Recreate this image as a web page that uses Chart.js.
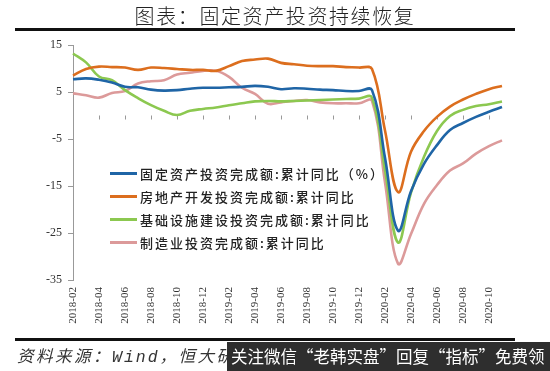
<!DOCTYPE html>
<html>
<head>
<meta charset="utf-8">
<script src="https://cdn.jsdelivr.net/npm/chart.js@4"></script>
<style>
  body { margin: 0; background: #fff; }
  #page { position: relative; width: 550px; height: 371px; overflow: hidden; background: #fff; }
  #title {
    position: absolute; left: 0; top: 1px; width: 550px; text-align: center;
    font-family: "Noto Sans CJK SC"; font-weight: 300; font-size: 20px; letter-spacing: 1.6px; color: #222;
  }
  .rule { position: absolute; left: 15px; width: 500px; height: 3px; background: #111; }
  #chartBox { position: absolute; left: 0; top: 0; width: 550px; height: 371px; }
  #legend {
    position: absolute; left: 110px; top: 162px;
    font-family: "Noto Sans CJK SC"; font-weight: 500; font-size: 13px; letter-spacing: 2px; color: #222; line-height: 23px;
  }
  #legend .row { display: flex; align-items: center; white-space: nowrap; }
  #legend .swatch { display: inline-block; width: 27px; height: 2.5px; margin-right: 3px; }
  #source {
    position: absolute; left: 17px; top: 343px;
    font-family: "Noto Sans CJK SC"; font-style: italic; font-size: 16.5px; letter-spacing: 2.5px; color: #333; white-space: nowrap;
  }
  #source .latin { font-family: "Liberation Mono"; letter-spacing: 2px; }
  #banner {
    position: absolute; left: 227px; top: 342px; width: 323px; height: 29px; background: #2e2e2e;
    color: #fff; font-family: "Noto Sans CJK SC"; font-size: 16.5px; line-height: 29px; padding-left: 4px; white-space: nowrap;
  }
</style>
</head>
<body>
<div id="page">
  <div id="chartBox"><canvas id="chart" width="550" height="371"></canvas></div>
  <div id="title">图表：固定资产投资持续恢复</div>
  <div class="rule" style="top:28px"></div>
  <div id="legend"></div>
  <div class="rule" style="top:338px"></div>
  <div id="source">资料来源：<span class="latin">Wind</span>，恒大研究院</div>
  <div id="banner">关注微信“老韩实盘”回复“指标”免费领</div>
</div>
<script>
const labels = [
  "2018-02", "2018-03", "2018-04", "2018-05", "2018-06", "2018-07", "2018-08", "2018-09",
  "2018-10", "2018-11", "2018-12", "2019-01", "2019-02", "2019-03", "2019-04", "2019-05",
  "2019-06", "2019-07", "2019-08", "2019-09", "2019-10", "2019-11", "2019-12", "2020-01",
  "2020-02", "2020-03", "2020-04", "2020-05", "2020-06", "2020-07", "2020-08", "2020-09",
  "2020-10", "2020-11"
];

const seriesNames = [
  "固定资产投资完成额:累计同比（%）",
  "房地产开发投资完成额:累计同比",
  "基础设施建设投资完成额:累计同比",
  "制造业投资完成额:累计同比"
];

const colors = ["#1f65a6", "#dc6e1e", "#8cc850", "#dc9a9a"];

const fixedAsset = [7.7, 7.9, 7.6, 7.0, 6.1, 6.0, 5.5, 5.3, 5.4, 5.7, 5.9, 5.9, 6.0, 6.1, 6.3, 6.1, 5.6,
  5.8, 5.7, 5.5, 5.4, 5.2, 5.2, 5.4, -9.0, -24.5, -16.1, -10.3, -6.3, -3.1, -1.6, -0.3, 0.8, 1.8];
const realEstate = [8.5, 9.9, 10.4, 10.3, 10.2, 9.7, 10.2, 10.1, 9.9, 9.7, 9.7, 9.5, 10.5, 11.6, 11.9, 12.1, 11.2,
  10.9, 10.6, 10.5, 10.5, 10.3, 10.2, 9.9, -3.2, -16.3, -7.7, -3.3, -0.3, 1.9, 3.4, 4.6, 5.6, 6.3];
const infrastructure = [13.2, 11.3, 8.3, 7.5, 5.4, 3.7, 2.2, 1.0, 0.1, 1.0, 1.4, 1.7, 2.2, 2.6, 3.0, 3.1, 3.0,
  3.1, 3.2, 3.3, 3.4, 3.5, 3.6, 3.8, -11.6, -27.0, -16.4, -8.8, -3.3, -0.1, 1.2, 2.0, 2.4, 3.0];
const manufacturing = [4.7, 4.3, 3.8, 4.8, 5.2, 6.8, 7.3, 7.5, 8.7, 9.1, 9.5, 9.5, 8.2, 5.9, 4.6, 2.5, 2.8,
  3.1, 3.3, 2.8, 2.6, 2.6, 2.6, 3.1, -14.2, -31.5, -25.2, -18.8, -14.8, -11.7, -10.2, -8.1, -6.5, -5.3];

const seriesData = [fixedAsset, realEstate, infrastructure, manufacturing];

// legend drawn as html inside the plot area
document.getElementById("legend").innerHTML = seriesNames
  .map((name, i) => `<div class="row"><span class="swatch" style="background:${colors[i]}"></span>${name}</div>`)
  .join("");

// small tick marks hanging under the zero line, every 2 months
const zeroTicks = {
  id: "zeroTicks",
  beforeDatasetsDraw(chart) {
    const { ctx, scales } = chart;
    const y0 = scales.y.getPixelForValue(0);
    ctx.save();
    ctx.strokeStyle = "#999";
    ctx.lineWidth = 1;
    ctx.beginPath();
    labels.forEach((l, i) => {
      if (i % 2 !== 0) return;
      const x = Math.round(scales.x.getPixelForValue(i)) + 0.5;
      ctx.moveTo(x, y0);
      ctx.lineTo(x, y0 + 4);
    });
    ctx.stroke();
    ctx.restore();
  }
};

new Chart(document.getElementById("chart"), {
  type: "line",
  data: {
    labels: labels,
    datasets: seriesData.map((d, i) => ({
      label: seriesNames[i],
      data: d,
      borderColor: colors[i],
      borderWidth: 2.6,
      pointRadius: 0,
      tension: 0.4,
      fill: false
    }))
  },
  options: {
    responsive: false,
    animation: false,
    layout: { padding: { left: 0, right: 48, top: 45, bottom: 0 } },
    plugins: {
      legend: { display: false },
      tooltip: { enabled: false }
    },
    scales: {
      x: {
        offset: false,
        grid: { display: false, drawTicks: false },
        border: { display: false },
        ticks: {
          autoSkip: false,
          minRotation: 90,
          maxRotation: 90,
          padding: 7,
          color: "#333",
          font: { family: "Liberation Serif", size: 11 },
          callback: (v, i) => (i % 2 === 0 ? labels[i] : "")
        },
        afterFit: (s) => { s.height = 91; }
      },
      y: {
        min: -35,
        max: 15,
        ticks: {
          stepSize: 10,
          padding: 6,
          color: "#333",
          font: { family: "Liberation Serif", size: 12 }
        },
        grid: {
          color: (c) => (c.tick && c.tick.value === 0 ? "#999" : "rgba(0,0,0,0)"),
          tickColor: "#999",
          tickLength: 5
        },
        border: { color: "#999" },
        afterFit: (s) => { s.width = 73; }
      }
    }
  },
  plugins: [zeroTicks]
});
</script>
</body>
</html>
